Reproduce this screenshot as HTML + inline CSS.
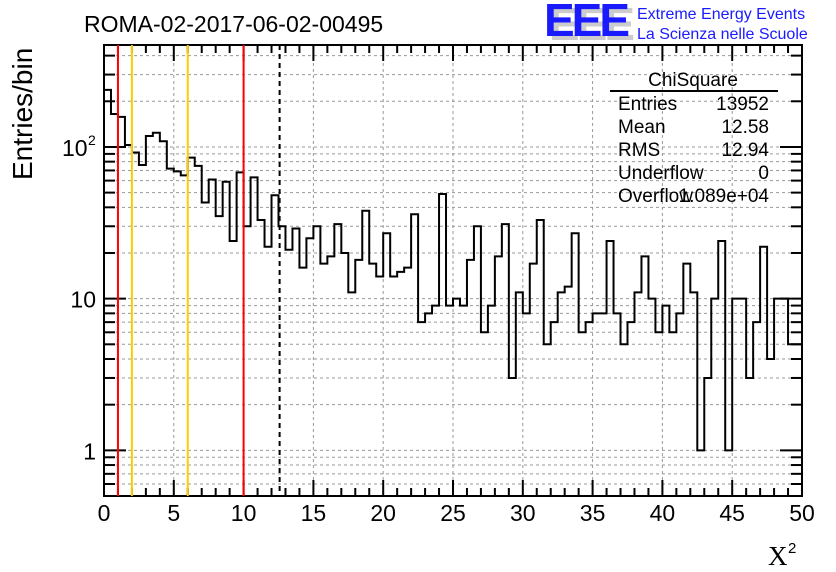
<!DOCTYPE html>
<html><head><meta charset="utf-8"><style>
body{margin:0;background:#fff;width:836px;height:572px;overflow:hidden}
svg{display:block;font-family:"Liberation Sans",sans-serif}
</style></head><body>
<svg id="c" width="836" height="572"></svg>
<script>
const counts=[238,165,158,103,92,76,118,124,109,72,69,65,85,75,43,61,35,59,24,68,30,63,33,22,48,30,21,29,16,25,30,17,19,31,
20,11,18,38,17,14,27,14,15,16,36,7,8,9,49,9,10,9,18,30,6,9,19,31,3,11,8,17,33,5,7,11,
12,27,6,7,8,8,24,8,5,7,11,19,10,6,9,6,8,17,11,1,3,10,24,1,10,10,3,7,22,4,10,10,5,5];
const xTicks=[0,5,10,15,20,25,30,35,40,45,50];
const yTickLabels=[[1,"1"],[10,"10"]];
const redLines=[1,10];
const yellowLines=[2,6];
const meanLine=[12.58];
const binWidth=0.5;

const L=104,R=802,T=45,B=496;
const xMin=0,xMax=50,yMin=Math.log10(0.5),yMax=Math.log10(470);
const X=v=>L+(v-xMin)/(xMax-xMin)*(R-L);
const Y=v=>B-(Math.log10(v)-yMin)/(yMax-yMin)*(B-T);
const svg=document.getElementById('c');
const NS='http://www.w3.org/2000/svg';
function mk(tag,a,parent){const e=document.createElementNS(NS,tag);for(const k in a)e.setAttribute(k,a[k]);(parent||svg).appendChild(e);return e;}

// grid
const grid=mk('g',{});


for(const t of xTicks){if(t>xMin&&t<xMax)mk('line',{x1:X(t),x2:X(t),y1:T,y2:B,stroke:'#999','stroke-dasharray':'3,3','stroke-width':1},grid);}
const minorY=[];
for(const d of [0.1,1,10,100])for(let m=1;m<10;m++){const v=d*m;if(v>0.5&&v<470)minorY.push(v);}
for(const v of minorY)mk('line',{x1:L,x2:R,y1:Y(v),y2:Y(v),stroke:'#999','stroke-dasharray':'3,3','stroke-width':1},grid);

// histogram
let d='M'+X(0)+','+B;
counts.forEach((c,i)=>{const y=Y(c);d+=' L'+X(i*binWidth)+','+y+' L'+X((i+1)*binWidth)+','+y;});
d+=' L'+X(counts.length*binWidth)+','+B;
const h=mk('path',{d:d,fill:'none',stroke:'#000','stroke-width':2});



// frame
const fr=mk('rect',{x:L,y:T,width:R-L,height:B-T,fill:'none',stroke:'#000','stroke-width':2});



// x ticks
const xa=mk('g',{});


for(let v=0;v<=50;v+=1){const big=v%5===0;const len=big?16:8;
mk('line',{x1:X(v),x2:X(v),y1:B,y2:B-len,stroke:'#000','stroke-width':2},xa);
mk('line',{x1:X(v),x2:X(v),y1:T,y2:T+len,stroke:'#000','stroke-width':2},xa);}
for(const t of xTicks){const e=mk('text',{x:X(t),y:521,'font-size':23,'text-anchor':'middle'},xa);e.textContent=t;}
// y ticks
const ya=mk('g',{});


for(const v of minorY){const big=[1,10,100].includes(v);const len=big?22:11;
mk('line',{x1:L,x2:L+len,y1:Y(v),y2:Y(v),stroke:'#000','stroke-width':2},ya);
mk('line',{x1:R,x2:R-len,y1:Y(v),y2:Y(v),stroke:'#000','stroke-width':2},ya);}
for(const [v,s] of yTickLabels){const e=mk('text',{x:96,y:Y(v)+9,'font-size':23,'text-anchor':'end'},ya);e.textContent=s;}
const e100=mk('text',{x:62,y:Y(100)+9,'font-size':23},ya);e100.textContent='10';
const sup=mk('text',{x:88,y:Y(100)-2,'font-size':14},ya);sup.textContent='2';

// vertical lines (drawn over ticks)
for(const v of redLines){const e=mk('line',{x1:X(v),x2:X(v),y1:T,y2:B,stroke:'#f00','stroke-width':2});

}
for(const v of yellowLines){const e=mk('line',{x1:X(v),x2:X(v),y1:T,y2:B,stroke:'#fc0','stroke-width':2});

}
for(const v of meanLine){const e=mk('line',{x1:X(v),x2:X(v),y1:T,y2:B,stroke:'#000','stroke-width':2,'stroke-dasharray':'5,4'});

}
</script>
<svg width="836" height="572" style="position:absolute;left:0;top:0" font-family="Liberation Sans, sans-serif">
<text x="84" y="32" font-size="23">ROMA-02-2017-06-02-00495</text>
<text transform="translate(32,180) rotate(-90)" font-size="28">Entries/bin</text>
<g><text x="768" y="565" font-size="27" font-family="Liberation Serif, serif">X</text><text x="788" y="553" font-size="15">2</text></g>
<g>
<text x="549" y="40" font-size="46" font-weight="bold" fill="#ccc" letter-spacing="-3">EEE</text>
<text x="544" y="36" font-size="46" font-weight="bold" fill="#1a1aff" letter-spacing="-3">EEE</text>
<text x="637" y="19" font-size="16" fill="#1a1aff">Extreme Energy Events</text>
<text x="637" y="39" font-size="16" fill="#1a1aff">La Scienza nelle Scuole</text>
</g>
<g font-size="19">
<text x="693" y="86" text-anchor="middle">ChiSquare</text>
<line x1="610" x2="778" y1="91" y2="91" stroke="#000" stroke-width="2"/>
<text x="618" y="110">Entries</text><text x="769" y="110" text-anchor="end">13952</text>
<text x="618" y="133">Mean</text><text x="769" y="133" text-anchor="end">12.58</text>
<text x="618" y="156">RMS</text><text x="769" y="156" text-anchor="end">12.94</text>
<text x="618" y="179">Underflow</text><text x="769" y="179" text-anchor="end">0</text>
<text x="618" y="202">Overflow</text><text x="769" y="202" text-anchor="end">1.089e+04</text>
</g>
</svg>
</body></html>
